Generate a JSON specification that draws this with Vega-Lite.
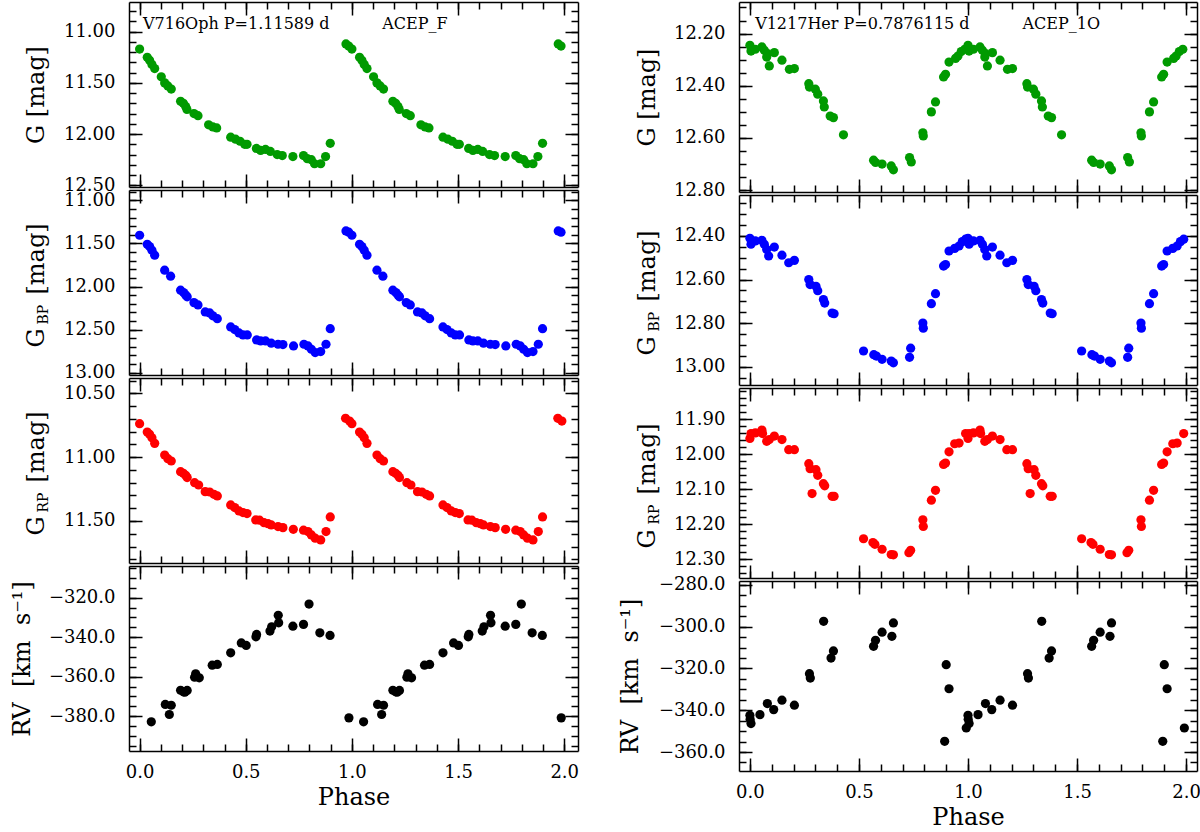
{
  "$schema": "https://vega.github.io/schema/vega-lite/v6.json",
  "padding": {"left": 10, "top": 1, "right": 2, "bottom": 0},
  "spacing": 39,
  "datasets": {
    "lg": [
      {"p":0.000,"m":11.17},{"p":0.036,"m":11.25},{"p":0.047,"m":11.28},{"p":0.058,"m":11.32},{"p":0.071,"m":11.36},{"p":0.102,"m":11.44},{"p":0.118,"m":11.50},{"p":0.133,"m":11.53},{"p":0.149,"m":11.56},{"p":0.193,"m":11.68},{"p":0.206,"m":11.70},{"p":0.217,"m":11.73},{"p":0.223,"m":11.76},{"p":0.256,"m":11.80},{"p":0.275,"m":11.82},{"p":0.325,"m":11.91},{"p":0.345,"m":11.93},{"p":0.363,"m":11.94},{"p":0.429,"m":12.03},{"p":0.452,"m":12.05},{"p":0.473,"m":12.07},{"p":0.495,"m":12.10},{"p":0.506,"m":12.10},{"p":0.550,"m":12.14},{"p":0.570,"m":12.16},{"p":0.593,"m":12.15},{"p":0.616,"m":12.17},{"p":0.648,"m":12.20},{"p":0.672,"m":12.21},{"p":0.722,"m":12.22},{"p":0.772,"m":12.21},{"p":0.790,"m":12.24},{"p":0.809,"m":12.25},{"p":0.824,"m":12.29},{"p":0.853,"m":12.29},{"p":0.876,"m":12.22},{"p":0.898,"m":12.09},{"p":0.972,"m":11.12},{"p":0.985,"m":11.14},
      {"p":1.000,"m":11.17},{"p":1.036,"m":11.25},{"p":1.047,"m":11.28},{"p":1.058,"m":11.32},{"p":1.071,"m":11.36},{"p":1.102,"m":11.44},{"p":1.118,"m":11.50},{"p":1.133,"m":11.53},{"p":1.149,"m":11.56},{"p":1.193,"m":11.68},{"p":1.206,"m":11.70},{"p":1.217,"m":11.73},{"p":1.223,"m":11.76},{"p":1.256,"m":11.80},{"p":1.275,"m":11.82},{"p":1.325,"m":11.91},{"p":1.345,"m":11.93},{"p":1.363,"m":11.94},{"p":1.429,"m":12.03},{"p":1.452,"m":12.05},{"p":1.473,"m":12.07},{"p":1.495,"m":12.10},{"p":1.506,"m":12.10},{"p":1.550,"m":12.14},{"p":1.570,"m":12.16},{"p":1.593,"m":12.15},{"p":1.616,"m":12.17},{"p":1.648,"m":12.20},{"p":1.672,"m":12.21},{"p":1.722,"m":12.22},{"p":1.772,"m":12.21},{"p":1.790,"m":12.24},{"p":1.809,"m":12.25},{"p":1.824,"m":12.29},{"p":1.853,"m":12.29},{"p":1.876,"m":12.22},{"p":1.898,"m":12.09},{"p":1.972,"m":11.12},{"p":1.985,"m":11.14}
    ],
    "lb": [
      {"p":0.000,"m":11.405},{"p":0.036,"m":11.51},{"p":0.047,"m":11.537},{"p":0.058,"m":11.58},{"p":0.071,"m":11.637},{"p":0.118,"m":11.81},{"p":0.146,"m":11.88},{"p":0.193,"m":12.043},{"p":0.207,"m":12.07},{"p":0.217,"m":12.098},{"p":0.224,"m":12.12},{"p":0.256,"m":12.187},{"p":0.275,"m":12.214},{"p":0.309,"m":12.295},{"p":0.330,"m":12.307},{"p":0.345,"m":12.34},{"p":0.366,"m":12.373},{"p":0.429,"m":12.469},{"p":0.448,"m":12.50},{"p":0.468,"m":12.539},{"p":0.487,"m":12.562},{"p":0.507,"m":12.562},{"p":0.551,"m":12.62},{"p":0.570,"m":12.632},{"p":0.593,"m":12.632},{"p":0.620,"m":12.658},{"p":0.652,"m":12.67},{"p":0.675,"m":12.674},{"p":0.725,"m":12.69},{"p":0.774,"m":12.67},{"p":0.793,"m":12.69},{"p":0.809,"m":12.728},{"p":0.827,"m":12.767},{"p":0.853,"m":12.755},{"p":0.878,"m":12.67},{"p":0.898,"m":12.49},{"p":0.972,"m":11.355},{"p":0.985,"m":11.37},
      {"p":1.000,"m":11.405},{"p":1.036,"m":11.51},{"p":1.047,"m":11.537},{"p":1.058,"m":11.58},{"p":1.071,"m":11.637},{"p":1.118,"m":11.81},{"p":1.146,"m":11.88},{"p":1.193,"m":12.043},{"p":1.207,"m":12.07},{"p":1.217,"m":12.098},{"p":1.224,"m":12.12},{"p":1.256,"m":12.187},{"p":1.275,"m":12.214},{"p":1.309,"m":12.295},{"p":1.330,"m":12.307},{"p":1.345,"m":12.34},{"p":1.366,"m":12.373},{"p":1.429,"m":12.469},{"p":1.448,"m":12.50},{"p":1.468,"m":12.539},{"p":1.487,"m":12.562},{"p":1.507,"m":12.562},{"p":1.551,"m":12.62},{"p":1.570,"m":12.632},{"p":1.593,"m":12.632},{"p":1.620,"m":12.658},{"p":1.652,"m":12.67},{"p":1.675,"m":12.674},{"p":1.725,"m":12.69},{"p":1.774,"m":12.67},{"p":1.793,"m":12.69},{"p":1.809,"m":12.728},{"p":1.827,"m":12.767},{"p":1.853,"m":12.755},{"p":1.878,"m":12.67},{"p":1.898,"m":12.49},{"p":1.972,"m":11.355},{"p":1.985,"m":11.37}
    ],
    "lr": [
      {"p":0.000,"m":10.738},{"p":0.036,"m":10.803},{"p":0.047,"m":10.821},{"p":0.058,"m":10.848},{"p":0.071,"m":10.892},{"p":0.118,"m":10.983},{"p":0.133,"m":11.012},{"p":0.149,"m":11.03},{"p":0.193,"m":11.114},{"p":0.206,"m":11.126},{"p":0.217,"m":11.142},{"p":0.224,"m":11.16},{"p":0.259,"m":11.20},{"p":0.278,"m":11.218},{"p":0.309,"m":11.27},{"p":0.330,"m":11.273},{"p":0.350,"m":11.291},{"p":0.366,"m":11.304},{"p":0.429,"m":11.374},{"p":0.448,"m":11.395},{"p":0.468,"m":11.421},{"p":0.487,"m":11.434},{"p":0.506,"m":11.442},{"p":0.547,"m":11.492},{"p":0.565,"m":11.494},{"p":0.586,"m":11.513},{"p":0.605,"m":11.521},{"p":0.620,"m":11.531},{"p":0.652,"m":11.544},{"p":0.675,"m":11.552},{"p":0.724,"m":11.565},{"p":0.772,"m":11.572},{"p":0.793,"m":11.583},{"p":0.809,"m":11.609},{"p":0.827,"m":11.635},{"p":0.853,"m":11.648},{"p":0.878,"m":11.583},{"p":0.898,"m":11.468},{"p":0.970,"m":10.696},{"p":0.989,"m":10.717},
      {"p":1.000,"m":10.738},{"p":1.036,"m":10.803},{"p":1.047,"m":10.821},{"p":1.058,"m":10.848},{"p":1.071,"m":10.892},{"p":1.118,"m":10.983},{"p":1.133,"m":11.012},{"p":1.149,"m":11.03},{"p":1.193,"m":11.114},{"p":1.206,"m":11.126},{"p":1.217,"m":11.142},{"p":1.224,"m":11.16},{"p":1.259,"m":11.20},{"p":1.278,"m":11.218},{"p":1.309,"m":11.27},{"p":1.330,"m":11.273},{"p":1.350,"m":11.291},{"p":1.366,"m":11.304},{"p":1.429,"m":11.374},{"p":1.448,"m":11.395},{"p":1.468,"m":11.421},{"p":1.487,"m":11.434},{"p":1.506,"m":11.442},{"p":1.547,"m":11.492},{"p":1.565,"m":11.494},{"p":1.586,"m":11.513},{"p":1.605,"m":11.521},{"p":1.620,"m":11.531},{"p":1.652,"m":11.544},{"p":1.675,"m":11.552},{"p":1.724,"m":11.565},{"p":1.772,"m":11.572},{"p":1.793,"m":11.583},{"p":1.809,"m":11.609},{"p":1.827,"m":11.635},{"p":1.853,"m":11.648},{"p":1.878,"m":11.583},{"p":1.898,"m":11.468},{"p":1.970,"m":10.696},{"p":1.989,"m":10.717}
    ],
    "lv": [
      {"p":0.055,"m":-382.9},{"p":0.121,"m":-374.1},{"p":0.140,"m":-379.2},{"p":0.149,"m":-374.5},{"p":0.193,"m":-366.9},{"p":0.206,"m":-367.7},{"p":0.213,"m":-367.9},{"p":0.224,"m":-367.0},{"p":0.259,"m":-360.3},{"p":0.264,"m":-358.6},{"p":0.281,"m":-360.6},{"p":0.342,"m":-354.2},{"p":0.366,"m":-353.8},{"p":0.429,"m":-347.9},{"p":0.479,"m":-342.9},{"p":0.502,"m":-344.2},{"p":0.548,"m":-339.8},{"p":0.551,"m":-338.6},{"p":0.614,"m":-336.9},{"p":0.622,"m":-334.7},{"p":0.653,"m":-328.9},{"p":0.655,"m":-332.7},{"p":0.722,"m":-334.4},{"p":0.772,"m":-333.5},{"p":0.798,"m":-323.2},{"p":0.849,"m":-337.8},{"p":0.897,"m":-339.1},{"p":0.986,"m":-380.9},
      {"p":1.055,"m":-382.9},{"p":1.121,"m":-374.1},{"p":1.140,"m":-379.2},{"p":1.149,"m":-374.5},{"p":1.193,"m":-366.9},{"p":1.206,"m":-367.7},{"p":1.213,"m":-367.9},{"p":1.224,"m":-367.0},{"p":1.259,"m":-360.3},{"p":1.264,"m":-358.6},{"p":1.281,"m":-360.6},{"p":1.342,"m":-354.2},{"p":1.366,"m":-353.8},{"p":1.429,"m":-347.9},{"p":1.479,"m":-342.9},{"p":1.502,"m":-344.2},{"p":1.548,"m":-339.8},{"p":1.551,"m":-338.6},{"p":1.614,"m":-336.9},{"p":1.622,"m":-334.7},{"p":1.653,"m":-328.9},{"p":1.655,"m":-332.7},{"p":1.722,"m":-334.4},{"p":1.772,"m":-333.5},{"p":1.798,"m":-323.2},{"p":1.849,"m":-337.8},{"p":1.897,"m":-339.1},{"p":1.986,"m":-380.9}
    ],
    "rg": [
      {"p":0.000,"m":12.245},{"p":0.005,"m":12.267},{"p":0.025,"m":12.26},{"p":0.055,"m":12.251},{"p":0.066,"m":12.264},{"p":0.077,"m":12.29},{"p":0.081,"m":12.277},{"p":0.089,"m":12.324},{"p":0.112,"m":12.273},{"p":0.147,"m":12.302},{"p":0.181,"m":12.337},{"p":0.204,"m":12.334},{"p":0.270,"m":12.392},{"p":0.273,"m":12.405},{"p":0.300,"m":12.413},{"p":0.311,"m":12.432},{"p":0.337,"m":12.458},{"p":0.341,"m":12.481},{"p":0.368,"m":12.516},{"p":0.383,"m":12.522},{"p":0.429,"m":12.588},{"p":0.567,"m":12.685},{"p":0.576,"m":12.694},{"p":0.606,"m":12.70},{"p":0.648,"m":12.707},{"p":0.658,"m":12.722},{"p":0.732,"m":12.675},{"p":0.740,"m":12.692},{"p":0.793,"m":12.58},{"p":0.795,"m":12.592},{"p":0.832,"m":12.50},{"p":0.851,"m":12.462},{"p":0.888,"m":12.366},{"p":0.897,"m":12.356},{"p":0.913,"m":12.309},{"p":0.943,"m":12.295},{"p":0.954,"m":12.286},{"p":0.969,"m":12.269},{"p":0.985,"m":12.26},
      {"p":1.000,"m":12.245},{"p":1.005,"m":12.267},{"p":1.025,"m":12.26},{"p":1.055,"m":12.251},{"p":1.066,"m":12.264},{"p":1.077,"m":12.29},{"p":1.081,"m":12.277},{"p":1.089,"m":12.324},{"p":1.112,"m":12.273},{"p":1.147,"m":12.302},{"p":1.181,"m":12.337},{"p":1.204,"m":12.334},{"p":1.270,"m":12.392},{"p":1.273,"m":12.405},{"p":1.300,"m":12.413},{"p":1.311,"m":12.432},{"p":1.337,"m":12.458},{"p":1.341,"m":12.481},{"p":1.368,"m":12.516},{"p":1.383,"m":12.522},{"p":1.429,"m":12.588},{"p":1.567,"m":12.685},{"p":1.576,"m":12.694},{"p":1.606,"m":12.70},{"p":1.648,"m":12.707},{"p":1.658,"m":12.722},{"p":1.732,"m":12.675},{"p":1.740,"m":12.692},{"p":1.793,"m":12.58},{"p":1.795,"m":12.592},{"p":1.832,"m":12.50},{"p":1.851,"m":12.462},{"p":1.888,"m":12.366},{"p":1.897,"m":12.356},{"p":1.913,"m":12.309},{"p":1.943,"m":12.295},{"p":1.954,"m":12.286},{"p":1.969,"m":12.269},{"p":1.985,"m":12.26}
    ],
    "rb": [
      {"p":0.000,"m":12.411},{"p":0.005,"m":12.438},{"p":0.025,"m":12.423},{"p":0.055,"m":12.42},{"p":0.066,"m":12.438},{"p":0.077,"m":12.462},{"p":0.086,"m":12.492},{"p":0.112,"m":12.451},{"p":0.147,"m":12.488},{"p":0.178,"m":12.523},{"p":0.204,"m":12.512},{"p":0.270,"m":12.60},{"p":0.276,"m":12.623},{"p":0.303,"m":12.631},{"p":0.311,"m":12.651},{"p":0.337,"m":12.692},{"p":0.343,"m":12.708},{"p":0.377,"m":12.754},{"p":0.386,"m":12.757},{"p":0.521,"m":12.928},{"p":0.568,"m":12.945},{"p":0.580,"m":12.951},{"p":0.606,"m":12.966},{"p":0.648,"m":12.974},{"p":0.658,"m":12.982},{"p":0.732,"m":12.957},{"p":0.737,"m":12.915},{"p":0.793,"m":12.80},{"p":0.795,"m":12.823},{"p":0.832,"m":12.711},{"p":0.851,"m":12.665},{"p":0.888,"m":12.538},{"p":0.897,"m":12.531},{"p":0.913,"m":12.469},{"p":0.939,"m":12.457},{"p":0.959,"m":12.446},{"p":0.974,"m":12.426},{"p":0.989,"m":12.415},
      {"p":1.000,"m":12.411},{"p":1.005,"m":12.438},{"p":1.025,"m":12.423},{"p":1.055,"m":12.42},{"p":1.066,"m":12.438},{"p":1.077,"m":12.462},{"p":1.086,"m":12.492},{"p":1.112,"m":12.451},{"p":1.147,"m":12.488},{"p":1.178,"m":12.523},{"p":1.204,"m":12.512},{"p":1.270,"m":12.60},{"p":1.276,"m":12.623},{"p":1.303,"m":12.631},{"p":1.311,"m":12.651},{"p":1.337,"m":12.692},{"p":1.343,"m":12.708},{"p":1.377,"m":12.754},{"p":1.386,"m":12.757},{"p":1.521,"m":12.928},{"p":1.568,"m":12.945},{"p":1.580,"m":12.951},{"p":1.606,"m":12.966},{"p":1.648,"m":12.974},{"p":1.658,"m":12.982},{"p":1.732,"m":12.957},{"p":1.737,"m":12.915},{"p":1.793,"m":12.80},{"p":1.795,"m":12.823},{"p":1.832,"m":12.711},{"p":1.851,"m":12.665},{"p":1.888,"m":12.538},{"p":1.897,"m":12.531},{"p":1.913,"m":12.469},{"p":1.939,"m":12.457},{"p":1.959,"m":12.446},{"p":1.974,"m":12.426},{"p":1.989,"m":12.415}
    ],
    "rr": [
      {"p":0.000,"m":11.955},{"p":0.005,"m":11.941},{"p":0.025,"m":11.939},{"p":0.055,"m":11.931},{"p":0.058,"m":11.941},{"p":0.077,"m":11.963},{"p":0.089,"m":11.958},{"p":0.112,"m":11.948},{"p":0.147,"m":11.958},{"p":0.178,"m":11.987},{"p":0.204,"m":11.987},{"p":0.270,"m":12.027},{"p":0.276,"m":12.041},{"p":0.285,"m":12.112},{"p":0.303,"m":12.044},{"p":0.311,"m":12.06},{"p":0.337,"m":12.084},{"p":0.343,"m":12.09},{"p":0.377,"m":12.12},{"p":0.386,"m":12.12},{"p":0.521,"m":12.241},{"p":0.564,"m":12.252},{"p":0.573,"m":12.257},{"p":0.606,"m":12.271},{"p":0.648,"m":12.286},{"p":0.658,"m":12.287},{"p":0.729,"m":12.281},{"p":0.737,"m":12.274},{"p":0.793,"m":12.187},{"p":0.795,"m":12.206},{"p":0.832,"m":12.131},{"p":0.851,"m":12.103},{"p":0.888,"m":12.029},{"p":0.897,"m":12.025},{"p":0.913,"m":11.993},{"p":0.939,"m":11.97},{"p":0.959,"m":11.968},{"p":0.989,"m":11.941},
      {"p":1.000,"m":11.955},{"p":1.005,"m":11.941},{"p":1.025,"m":11.939},{"p":1.055,"m":11.931},{"p":1.058,"m":11.941},{"p":1.077,"m":11.963},{"p":1.089,"m":11.958},{"p":1.112,"m":11.948},{"p":1.147,"m":11.958},{"p":1.178,"m":11.987},{"p":1.204,"m":11.987},{"p":1.270,"m":12.027},{"p":1.276,"m":12.041},{"p":1.285,"m":12.112},{"p":1.303,"m":12.044},{"p":1.311,"m":12.06},{"p":1.337,"m":12.084},{"p":1.343,"m":12.09},{"p":1.377,"m":12.12},{"p":1.386,"m":12.12},{"p":1.521,"m":12.241},{"p":1.564,"m":12.252},{"p":1.573,"m":12.257},{"p":1.606,"m":12.271},{"p":1.648,"m":12.286},{"p":1.658,"m":12.287},{"p":1.729,"m":12.281},{"p":1.737,"m":12.274},{"p":1.793,"m":12.187},{"p":1.795,"m":12.206},{"p":1.832,"m":12.131},{"p":1.851,"m":12.103},{"p":1.888,"m":12.029},{"p":1.897,"m":12.025},{"p":1.913,"m":11.993},{"p":1.939,"m":11.97},{"p":1.959,"m":11.968},{"p":1.989,"m":11.941}
    ],
    "rv": [
      {"p":0.000,"m":-342.4},{"p":0.001,"m":-344.3},{"p":0.005,"m":-346.4},{"p":0.046,"m":-342.1},{"p":0.080,"m":-336.8},{"p":0.109,"m":-339.7},{"p":0.147,"m":-335.2},{"p":0.204,"m":-337.6},{"p":0.273,"m":-322.5},{"p":0.277,"m":-324.6},{"p":0.338,"m":-297.4},{"p":0.372,"m":-315.0},{"p":0.383,"m":-311.6},{"p":0.567,"m":-309.4},{"p":0.576,"m":-306.5},{"p":0.606,"m":-302.6},{"p":0.651,"m":-304.6},{"p":0.658,"m":-298.2},{"p":0.893,"m":-354.9},{"p":0.900,"m":-318.2},{"p":0.913,"m":-329.7},{"p":0.992,"m":-348.5},
      {"p":1.000,"m":-342.4},{"p":1.001,"m":-344.3},{"p":1.005,"m":-346.4},{"p":1.046,"m":-342.1},{"p":1.080,"m":-336.8},{"p":1.109,"m":-339.7},{"p":1.147,"m":-335.2},{"p":1.204,"m":-337.6},{"p":1.273,"m":-322.5},{"p":1.277,"m":-324.6},{"p":1.338,"m":-297.4},{"p":1.372,"m":-315.0},{"p":1.383,"m":-311.6},{"p":1.567,"m":-309.4},{"p":1.576,"m":-306.5},{"p":1.606,"m":-302.6},{"p":1.651,"m":-304.6},{"p":1.658,"m":-298.2},{"p":1.893,"m":-354.9},{"p":1.900,"m":-318.2},{"p":1.913,"m":-329.7},{"p":1.992,"m":-348.5}
    ],
    "ll": [
      {"p":0.016,"m":10.922,"t":"V716Oph P=1.11589 d"},
      {"p":1.143,"m":10.922,"t":"ACEP_F"}
    ],
    "rl": [
      {"p":0.024,"m":12.164,"t":"V1217Her P=0.7876115 d"},
      {"p":1.25,"m":12.164,"t":"ACEP_1O"}
    ]
  },
  "hconcat": [
    {
      "spacing": 3,
      "bounds": "flush",
      "vconcat": [
        {
          "width": 449, "height": 185,
          "data": {"name": "lg"},
          "layer": [
            {"mark": {"type": "point", "filled": true, "size": 85, "opacity": 1, "color": "#009a00"},
             "encoding": {
               "x": {"field": "p", "type": "quantitative", "scale": {"domain": [-0.05, 2.065], "nice": false, "zero": false}, "axis": {"orient": "bottom", "values": [0, 0.5, 1, 1.5, 2], "labels": false, "title": null}},
               "y": {"field": "m", "type": "quantitative", "scale": {"domain": [10.71, 12.517], "reverse": true, "nice": false, "zero": false}, "axis": {"orient": "left", "values": [11, 11.5, 12, 12.5], "format": ".2f", "title": "G [mag]", "titleX": -86, "titleY": 92.5, "titleAlign": "center"}}
             }},
            {"mark": {"type": "point", "opacity": 0},
             "encoding": {
               "x": {"field": "p", "type": "quantitative", "axis": {"orient": "top", "values": [0, 0.5, 1, 1.5, 2], "labels": false, "title": null}},
               "y": {"field": "m", "type": "quantitative", "axis": {"orient": "right", "values": [11, 11.5, 12, 12.5], "labels": false, "title": null}}
             }},
            {"mark": {"type": "point", "opacity": 0},
             "encoding": {
               "x": {"field": "p", "type": "quantitative", "axis": {"orient": "bottom", "values": [0,0.1,0.2,0.3,0.4,0.5,0.6,0.7,0.8,0.9,1,1.1,1.2,1.3,1.4,1.5,1.6,1.7,1.8,1.9,2], "labels": false, "domain": false, "tickSize": -7, "title": null}},
               "y": {"field": "m", "type": "quantitative", "axis": {"orient": "left", "values": [10.8,10.9,11,11.1,11.2,11.3,11.4,11.5,11.6,11.7,11.8,11.9,12,12.1,12.2,12.3,12.4,12.5], "labels": false, "domain": false, "tickSize": -7, "title": null}}
             }},
            {"mark": {"type": "point", "opacity": 0},
             "encoding": {
               "x": {"field": "p", "type": "quantitative", "axis": {"orient": "top", "values": [0,0.1,0.2,0.3,0.4,0.5,0.6,0.7,0.8,0.9,1,1.1,1.2,1.3,1.4,1.5,1.6,1.7,1.8,1.9,2], "labels": false, "domain": false, "tickSize": -7, "title": null}},
               "y": {"field": "m", "type": "quantitative", "axis": {"orient": "right", "values": [10.8,10.9,11,11.1,11.2,11.3,11.4,11.5,11.6,11.7,11.8,11.9,12,12.1,12.2,12.3,12.4,12.5], "labels": false, "domain": false, "tickSize": -7, "title": null}}
             }},
            {"data": {"name": "ll"},
             "mark": {"type": "text", "align": "left", "baseline": "middle", "fontSize": 16, "font": "DejaVu Serif", "color": "black"},
             "encoding": {
               "x": {"field": "p", "type": "quantitative", "axis": null},
               "y": {"field": "m", "type": "quantitative", "axis": null},
               "text": {"field": "t"}
             }}
          ],
          "resolve": {"axis": {"x": "independent", "y": "independent"}}
        },
        {
          "width": 449, "height": 185,
          "data": {"name": "lb"},
          "layer": [
            {"mark": {"type": "point", "filled": true, "size": 85, "opacity": 1, "color": "#0000ff"},
             "encoding": {
               "x": {"field": "p", "type": "quantitative", "scale": {"domain": [-0.05, 2.065], "nice": false, "zero": false}, "axis": {"orient": "bottom", "values": [0, 0.5, 1, 1.5, 2], "labels": false, "title": null}},
               "y": {"field": "m", "type": "quantitative", "scale": {"domain": [10.88, 13.027], "reverse": true, "nice": false, "zero": false}, "axis": {"orient": "left", "values": [11, 11.5, 12, 12.5, 13], "format": ".2f", "title": "[mag]", "titleX": -86, "titleY": 104, "titleAlign": "left"}}
             }},
            {"mark": {"type": "point", "opacity": 0},
             "encoding": {
               "x": {"field": "p", "type": "quantitative", "axis": {"orient": "top", "values": [0, 0.5, 1, 1.5, 2], "labels": false, "title": null}},
               "y": {"field": "m", "type": "quantitative", "axis": {"orient": "right", "values": [11, 11.5, 12, 12.5, 13], "labels": false, "title": null}}
             }},
            {"mark": {"type": "point", "opacity": 0},
             "encoding": {
               "x": {"field": "p", "type": "quantitative", "axis": {"orient": "bottom", "values": [0,0.1,0.2,0.3,0.4,0.5,0.6,0.7,0.8,0.9,1,1.1,1.2,1.3,1.4,1.5,1.6,1.7,1.8,1.9,2], "labels": false, "domain": false, "tickSize": -7, "title": null}},
               "y": {"field": "m", "type": "quantitative", "axis": {"orient": "left", "values": [10.9,11,11.1,11.2,11.3,11.4,11.5,11.6,11.7,11.8,11.9,12,12.1,12.2,12.3,12.4,12.5,12.6,12.7,12.8,12.9,13], "labels": false, "domain": false, "tickSize": -7, "title": "G", "titleX": -86, "titleY": 157, "titleAlign": "left"}}
             }},
            {"mark": {"type": "point", "opacity": 0},
             "encoding": {
               "x": {"field": "p", "type": "quantitative", "axis": {"orient": "top", "values": [0,0.1,0.2,0.3,0.4,0.5,0.6,0.7,0.8,0.9,1,1.1,1.2,1.3,1.4,1.5,1.6,1.7,1.8,1.9,2], "labels": false, "domain": false, "tickSize": -7, "title": null}},
               "y": {"field": "m", "type": "quantitative", "axis": {"orient": "right", "values": [10.9,11,11.1,11.2,11.3,11.4,11.5,11.6,11.7,11.8,11.9,12,12.1,12.2,12.3,12.4,12.5,12.6,12.7,12.8,12.9,13], "labels": false, "domain": false, "tickSize": -7, "title": "BP", "titleFontSize": 14, "titleX": -531, "titleY": 134, "titleAlign": "left"}}
             }}
          ],
          "resolve": {"axis": {"x": "independent", "y": "independent"}}
        },
        {
          "width": 449, "height": 185,
          "data": {"name": "lr"},
          "layer": [
            {"mark": {"type": "point", "filled": true, "size": 85, "opacity": 1, "color": "#ff0000"},
             "encoding": {
               "x": {"field": "p", "type": "quantitative", "scale": {"domain": [-0.05, 2.065], "nice": false, "zero": false}, "axis": {"orient": "bottom", "values": [0, 0.5, 1, 1.5, 2], "labels": false, "title": null}},
               "y": {"field": "m", "type": "quantitative", "scale": {"domain": [10.38, 11.829], "reverse": true, "nice": false, "zero": false}, "axis": {"orient": "left", "values": [10.5, 11, 11.5], "format": ".2f", "title": "[mag]", "titleX": -86, "titleY": 104, "titleAlign": "left"}}
             }},
            {"mark": {"type": "point", "opacity": 0},
             "encoding": {
               "x": {"field": "p", "type": "quantitative", "axis": {"orient": "top", "values": [0, 0.5, 1, 1.5, 2], "labels": false, "title": null}},
               "y": {"field": "m", "type": "quantitative", "axis": {"orient": "right", "values": [10.5, 11, 11.5], "labels": false, "title": null}}
             }},
            {"mark": {"type": "point", "opacity": 0},
             "encoding": {
               "x": {"field": "p", "type": "quantitative", "axis": {"orient": "bottom", "values": [0,0.1,0.2,0.3,0.4,0.5,0.6,0.7,0.8,0.9,1,1.1,1.2,1.3,1.4,1.5,1.6,1.7,1.8,1.9,2], "labels": false, "domain": false, "tickSize": -7, "title": null}},
               "y": {"field": "m", "type": "quantitative", "axis": {"orient": "left", "values": [10.4,10.5,10.6,10.7,10.8,10.9,11,11.1,11.2,11.3,11.4,11.5,11.6,11.7,11.8], "labels": false, "domain": false, "tickSize": -7, "title": "G", "titleX": -86, "titleY": 157, "titleAlign": "left"}}
             }},
            {"mark": {"type": "point", "opacity": 0},
             "encoding": {
               "x": {"field": "p", "type": "quantitative", "axis": {"orient": "top", "values": [0,0.1,0.2,0.3,0.4,0.5,0.6,0.7,0.8,0.9,1,1.1,1.2,1.3,1.4,1.5,1.6,1.7,1.8,1.9,2], "labels": false, "domain": false, "tickSize": -7, "title": null}},
               "y": {"field": "m", "type": "quantitative", "axis": {"orient": "right", "values": [10.4,10.5,10.6,10.7,10.8,10.9,11,11.1,11.2,11.3,11.4,11.5,11.6,11.7,11.8], "labels": false, "domain": false, "tickSize": -7, "title": "RP", "titleFontSize": 14, "titleX": -531, "titleY": 134, "titleAlign": "left"}}
             }}
          ],
          "resolve": {"axis": {"x": "independent", "y": "independent"}}
        },
        {
          "width": 449, "height": 185,
          "data": {"name": "lv"},
          "layer": [
            {"mark": {"type": "point", "filled": true, "size": 85, "opacity": 1, "color": "#000000"},
             "encoding": {
               "x": {"field": "p", "type": "quantitative", "scale": {"domain": [-0.05, 2.065], "nice": false, "zero": false}, "axis": {"orient": "bottom", "values": [0, 0.5, 1, 1.5, 2], "format": ".1f", "labels": true, "title": "Phase", "titlePadding": 4}},
               "y": {"field": "m", "type": "quantitative", "scale": {"domain": [-397.7, -303.9], "nice": false, "zero": false}, "axis": {"orient": "left", "values": [-380, -360, -340, -320], "format": ".1f", "title": "RV\u00a0\u00a0[km\u00a0\u00a0s⁻¹]", "titleX": -100, "titleY": 92.5, "titleAlign": "center"}}
             }},
            {"mark": {"type": "point", "opacity": 0},
             "encoding": {
               "x": {"field": "p", "type": "quantitative", "axis": {"orient": "top", "values": [0, 0.5, 1, 1.5, 2], "labels": false, "title": null}},
               "y": {"field": "m", "type": "quantitative", "axis": {"orient": "right", "values": [-380, -360, -340, -320], "labels": false, "title": null}}
             }},
            {"mark": {"type": "point", "opacity": 0},
             "encoding": {
               "x": {"field": "p", "type": "quantitative", "axis": {"orient": "bottom", "values": [0,0.1,0.2,0.3,0.4,0.5,0.6,0.7,0.8,0.9,1,1.1,1.2,1.3,1.4,1.5,1.6,1.7,1.8,1.9,2], "labels": false, "domain": false, "tickSize": -7, "title": null}},
               "y": {"field": "m", "type": "quantitative", "axis": {"orient": "left", "values": [-395,-390,-385,-380,-375,-370,-365,-360,-355,-350,-345,-340,-335,-330,-325,-320,-315,-310,-305], "labels": false, "domain": false, "tickSize": -7, "title": null}}
             }},
            {"mark": {"type": "point", "opacity": 0},
             "encoding": {
               "x": {"field": "p", "type": "quantitative", "axis": {"orient": "top", "values": [0,0.1,0.2,0.3,0.4,0.5,0.6,0.7,0.8,0.9,1,1.1,1.2,1.3,1.4,1.5,1.6,1.7,1.8,1.9,2], "labels": false, "domain": false, "tickSize": -7, "title": null}},
               "y": {"field": "m", "type": "quantitative", "axis": {"orient": "right", "values": [-395,-390,-385,-380,-375,-370,-365,-360,-355,-350,-345,-340,-335,-330,-325,-320,-315,-310,-305], "labels": false, "domain": false, "tickSize": -7, "title": null}}
             }}
          ],
          "resolve": {"axis": {"x": "independent", "y": "independent"}}
        }
      ]
    },
    {
      "spacing": 3,
      "bounds": "flush",
      "vconcat": [
        {
          "width": 458, "height": 190,
          "data": {"name": "rg"},
          "layer": [
            {"mark": {"type": "point", "filled": true, "size": 85, "opacity": 1, "color": "#009a00"},
             "encoding": {
               "x": {"field": "p", "type": "quantitative", "scale": {"domain": [-0.05, 2.05], "nice": false, "zero": false}, "axis": {"orient": "bottom", "values": [0, 0.5, 1, 1.5, 2], "labels": false, "title": null}},
               "y": {"field": "m", "type": "quantitative", "scale": {"domain": [12.079, 12.807], "reverse": true, "nice": false, "zero": false}, "axis": {"orient": "left", "values": [12.2, 12.4, 12.6, 12.8], "format": ".2f", "title": "G [mag]", "titleX": -85, "titleY": 95, "titleAlign": "center"}}
             }},
            {"mark": {"type": "point", "opacity": 0},
             "encoding": {
               "x": {"field": "p", "type": "quantitative", "axis": {"orient": "top", "values": [0, 0.5, 1, 1.5, 2], "labels": false, "title": null}},
               "y": {"field": "m", "type": "quantitative", "axis": {"orient": "right", "values": [12.2, 12.4, 12.6, 12.8], "labels": false, "title": null}}
             }},
            {"mark": {"type": "point", "opacity": 0},
             "encoding": {
               "x": {"field": "p", "type": "quantitative", "axis": {"orient": "bottom", "values": [0,0.1,0.2,0.3,0.4,0.5,0.6,0.7,0.8,0.9,1,1.1,1.2,1.3,1.4,1.5,1.6,1.7,1.8,1.9,2], "labels": false, "domain": false, "tickSize": -7, "title": null}},
               "y": {"field": "m", "type": "quantitative", "axis": {"orient": "left", "values": [12.1,12.15,12.2,12.25,12.3,12.35,12.4,12.45,12.5,12.55,12.6,12.65,12.7,12.75,12.8], "labels": false, "domain": false, "tickSize": -7, "title": null}}
             }},
            {"mark": {"type": "point", "opacity": 0},
             "encoding": {
               "x": {"field": "p", "type": "quantitative", "axis": {"orient": "top", "values": [0,0.1,0.2,0.3,0.4,0.5,0.6,0.7,0.8,0.9,1,1.1,1.2,1.3,1.4,1.5,1.6,1.7,1.8,1.9,2], "labels": false, "domain": false, "tickSize": -7, "title": null}},
               "y": {"field": "m", "type": "quantitative", "axis": {"orient": "right", "values": [12.1,12.15,12.2,12.25,12.3,12.35,12.4,12.45,12.5,12.55,12.6,12.65,12.7,12.75,12.8], "labels": false, "domain": false, "tickSize": -7, "title": null}}
             }},
            {"data": {"name": "rl"},
             "mark": {"type": "text", "align": "left", "baseline": "middle", "fontSize": 16, "font": "DejaVu Serif", "color": "black"},
             "encoding": {
               "x": {"field": "p", "type": "quantitative", "axis": null},
               "y": {"field": "m", "type": "quantitative", "axis": null},
               "text": {"field": "t"}
             }}
          ],
          "resolve": {"axis": {"x": "independent", "y": "independent"}}
        },
        {
          "width": 458, "height": 190,
          "data": {"name": "rb"},
          "layer": [
            {"mark": {"type": "point", "filled": true, "size": 85, "opacity": 1, "color": "#0000ff"},
             "encoding": {
               "x": {"field": "p", "type": "quantitative", "scale": {"domain": [-0.05, 2.05], "nice": false, "zero": false}, "axis": {"orient": "bottom", "values": [0, 0.5, 1, 1.5, 2], "labels": false, "title": null}},
               "y": {"field": "m", "type": "quantitative", "scale": {"domain": [12.212, 13.084], "reverse": true, "nice": false, "zero": false}, "axis": {"orient": "left", "values": [12.4, 12.6, 12.8, 13], "format": ".2f", "title": "[mag]", "titleX": -85, "titleY": 106, "titleAlign": "left"}}
             }},
            {"mark": {"type": "point", "opacity": 0},
             "encoding": {
               "x": {"field": "p", "type": "quantitative", "axis": {"orient": "top", "values": [0, 0.5, 1, 1.5, 2], "labels": false, "title": null}},
               "y": {"field": "m", "type": "quantitative", "axis": {"orient": "right", "values": [12.4, 12.6, 12.8, 13], "labels": false, "title": null}}
             }},
            {"mark": {"type": "point", "opacity": 0},
             "encoding": {
               "x": {"field": "p", "type": "quantitative", "axis": {"orient": "bottom", "values": [0,0.1,0.2,0.3,0.4,0.5,0.6,0.7,0.8,0.9,1,1.1,1.2,1.3,1.4,1.5,1.6,1.7,1.8,1.9,2], "labels": false, "domain": false, "tickSize": -7, "title": null}},
               "y": {"field": "m", "type": "quantitative", "axis": {"orient": "left", "values": [12.25,12.3,12.35,12.4,12.45,12.5,12.55,12.6,12.65,12.7,12.75,12.8,12.85,12.9,12.95,13,13.05], "labels": false, "domain": false, "tickSize": -7, "title": "G", "titleX": -85, "titleY": 160, "titleAlign": "left"}}
             }},
            {"mark": {"type": "point", "opacity": 0},
             "encoding": {
               "x": {"field": "p", "type": "quantitative", "axis": {"orient": "top", "values": [0,0.1,0.2,0.3,0.4,0.5,0.6,0.7,0.8,0.9,1,1.1,1.2,1.3,1.4,1.5,1.6,1.7,1.8,1.9,2], "labels": false, "domain": false, "tickSize": -7, "title": null}},
               "y": {"field": "m", "type": "quantitative", "axis": {"orient": "right", "values": [12.25,12.3,12.35,12.4,12.45,12.5,12.55,12.6,12.65,12.7,12.75,12.8,12.85,12.9,12.95,13,13.05], "labels": false, "domain": false, "tickSize": -7, "title": "BP", "titleFontSize": 14, "titleX": -539, "titleY": 136, "titleAlign": "left"}}
             }}
          ],
          "resolve": {"axis": {"x": "independent", "y": "independent"}}
        },
        {
          "width": 458, "height": 190,
          "data": {"name": "rr"},
          "layer": [
            {"mark": {"type": "point", "filled": true, "size": 85, "opacity": 1, "color": "#ff0000"},
             "encoding": {
               "x": {"field": "p", "type": "quantitative", "scale": {"domain": [-0.05, 2.05], "nice": false, "zero": false}, "axis": {"orient": "bottom", "values": [0, 0.5, 1, 1.5, 2], "labels": false, "title": null}},
               "y": {"field": "m", "type": "quantitative", "scale": {"domain": [11.811, 12.353], "reverse": true, "nice": false, "zero": false}, "axis": {"orient": "left", "values": [11.9, 12, 12.1, 12.2, 12.3], "format": ".2f", "title": "[mag]", "titleX": -85, "titleY": 106, "titleAlign": "left"}}
             }},
            {"mark": {"type": "point", "opacity": 0},
             "encoding": {
               "x": {"field": "p", "type": "quantitative", "axis": {"orient": "top", "values": [0, 0.5, 1, 1.5, 2], "labels": false, "title": null}},
               "y": {"field": "m", "type": "quantitative", "axis": {"orient": "right", "values": [11.9, 12, 12.1, 12.2, 12.3], "labels": false, "title": null}}
             }},
            {"mark": {"type": "point", "opacity": 0},
             "encoding": {
               "x": {"field": "p", "type": "quantitative", "axis": {"orient": "bottom", "values": [0,0.1,0.2,0.3,0.4,0.5,0.6,0.7,0.8,0.9,1,1.1,1.2,1.3,1.4,1.5,1.6,1.7,1.8,1.9,2], "labels": false, "domain": false, "tickSize": -7, "title": null}},
               "y": {"field": "m", "type": "quantitative", "axis": {"orient": "left", "values": [11.82,11.84,11.86,11.88,11.9,11.92,11.94,11.96,11.98,12,12.02,12.04,12.06,12.08,12.1,12.12,12.14,12.16,12.18,12.2,12.22,12.24,12.26,12.28,12.3,12.32,12.34], "labels": false, "domain": false, "tickSize": -7, "title": "G", "titleX": -85, "titleY": 160, "titleAlign": "left"}}
             }},
            {"mark": {"type": "point", "opacity": 0},
             "encoding": {
               "x": {"field": "p", "type": "quantitative", "axis": {"orient": "top", "values": [0,0.1,0.2,0.3,0.4,0.5,0.6,0.7,0.8,0.9,1,1.1,1.2,1.3,1.4,1.5,1.6,1.7,1.8,1.9,2], "labels": false, "domain": false, "tickSize": -7, "title": null}},
               "y": {"field": "m", "type": "quantitative", "axis": {"orient": "right", "values": [11.82,11.84,11.86,11.88,11.9,11.92,11.94,11.96,11.98,12,12.02,12.04,12.06,12.08,12.1,12.12,12.14,12.16,12.18,12.2,12.22,12.24,12.26,12.28,12.3,12.32,12.34], "labels": false, "domain": false, "tickSize": -7, "title": "RP", "titleFontSize": 14, "titleX": -539, "titleY": 136, "titleAlign": "left"}}
             }}
          ],
          "resolve": {"axis": {"x": "independent", "y": "independent"}}
        },
        {
          "width": 458, "height": 190,
          "data": {"name": "rv"},
          "layer": [
            {"mark": {"type": "point", "filled": true, "size": 85, "opacity": 1, "color": "#000000"},
             "encoding": {
               "x": {"field": "p", "type": "quantitative", "scale": {"domain": [-0.05, 2.05], "nice": false, "zero": false}, "axis": {"orient": "bottom", "values": [0, 0.5, 1, 1.5, 2], "format": ".1f", "labels": true, "title": "Phase", "titlePadding": 4}},
               "y": {"field": "m", "type": "quantitative", "scale": {"domain": [-369.1, -278.1], "nice": false, "zero": false}, "axis": {"orient": "left", "values": [-360, -340, -320, -300, -280], "format": ".1f", "title": "RV\u00a0\u00a0[km\u00a0\u00a0s⁻¹]", "titleX": -102, "titleY": 95, "titleAlign": "center"}}
             }},
            {"mark": {"type": "point", "opacity": 0},
             "encoding": {
               "x": {"field": "p", "type": "quantitative", "axis": {"orient": "top", "values": [0, 0.5, 1, 1.5, 2], "labels": false, "title": null}},
               "y": {"field": "m", "type": "quantitative", "axis": {"orient": "right", "values": [-360, -340, -320, -300, -280], "labels": false, "title": null}}
             }},
            {"mark": {"type": "point", "opacity": 0},
             "encoding": {
               "x": {"field": "p", "type": "quantitative", "axis": {"orient": "bottom", "values": [0,0.1,0.2,0.3,0.4,0.5,0.6,0.7,0.8,0.9,1,1.1,1.2,1.3,1.4,1.5,1.6,1.7,1.8,1.9,2], "labels": false, "domain": false, "tickSize": -7, "title": null}},
               "y": {"field": "m", "type": "quantitative", "axis": {"orient": "left", "values": [-365,-360,-355,-350,-345,-340,-335,-330,-325,-320,-315,-310,-305,-300,-295,-290,-285,-280], "labels": false, "domain": false, "tickSize": -7, "title": null}}
             }},
            {"mark": {"type": "point", "opacity": 0},
             "encoding": {
               "x": {"field": "p", "type": "quantitative", "axis": {"orient": "top", "values": [0,0.1,0.2,0.3,0.4,0.5,0.6,0.7,0.8,0.9,1,1.1,1.2,1.3,1.4,1.5,1.6,1.7,1.8,1.9,2], "labels": false, "domain": false, "tickSize": -7, "title": null}},
               "y": {"field": "m", "type": "quantitative", "axis": {"orient": "right", "values": [-365,-360,-355,-350,-345,-340,-335,-330,-325,-320,-315,-310,-305,-300,-295,-290,-285,-280], "labels": false, "domain": false, "tickSize": -7, "title": null}}
             }}
          ],
          "resolve": {"axis": {"x": "independent", "y": "independent"}}
        }
      ]
    }
  ],
  "config": {
    "view": {"stroke": null},
    "axis": {
      "grid": false,
      "domainColor": "black",
      "domainWidth": 1.5,
      "tickColor": "black",
      "tickWidth": 1.5,
      "tickSize": -13,
      "labelColor": "black",
      "labelFont": "DejaVu Serif",
      "labelFontSize": 18,
      "labelPadding": 27,
      "labelFlush": false,
      "labelOverlap": false,
      "labelBound": false,
      "titleFont": "DejaVu Serif",
      "titleFontSize": 24,
      "titleFontWeight": "normal",
      "titleColor": "black"
    },
    "axisX": {"labelPadding": 25},
    "axisY": {"titleAngle": 270, "titleBaseline": "alphabetic"}
  }
}
